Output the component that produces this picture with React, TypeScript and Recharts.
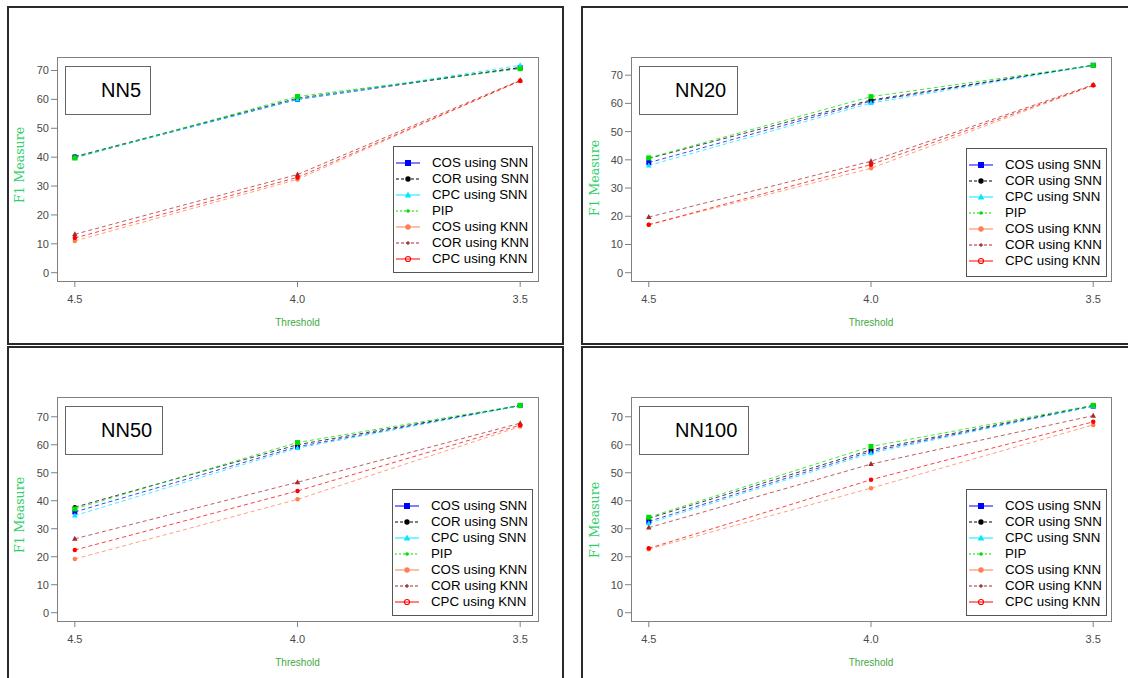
import React from 'react';
import { LineChart, Line, XAxis, YAxis } from 'recharts';

// ---------- data ----------
const THRESHOLDS = [4.5, 4.0, 3.5];
const Y_TICKS = [0, 10, 20, 30, 40, 50, 60, 70];
const PANEL_TITLES = ['NN5', 'NN20', 'NN50', 'NN100'];
const SERIES_NAMES = [
  'COS using SNN',
  'COR using SNN',
  'CPC using SNN',
  'PIP',
  'COS using KNN',
  'COR using KNN',
  'CPC using KNN',
];
const SERIES_KEYS = ['cosSnn', 'corSnn', 'cpcSnn', 'pip', 'cosKnn', 'corKnn', 'cpcKnn'];

const NN5_COS_SNN = [40.0, 60.0, 71.0];
const NN5_COR_SNN = [40.2, 60.4, 71.0];
const NN5_CPC_SNN = [40.0, 60.0, 71.8];
const NN5_PIP = [39.7, 61.0, 70.6];
const NN5_COS_KNN = [11.0, 32.3, 66.5];
const NN5_COR_KNN = [13.3, 34.0, 66.6];
const NN5_CPC_KNN = [12.0, 33.0, 66.4];

const NN20_COS_SNN = [39.0, 60.8, 73.5];
const NN20_COR_SNN = [40.5, 61.2, 73.5];
const NN20_CPC_SNN = [38.0, 60.1, 73.4];
const NN20_PIP = [40.7, 62.4, 73.5];
const NN20_COS_KNN = [17.0, 37.0, 66.3];
const NN20_COR_KNN = [19.7, 39.5, 66.6];
const NN20_CPC_KNN = [17.0, 38.3, 66.4];

const NN50_COS_SNN = [36.0, 59.3, 74.0];
const NN50_COR_SNN = [37.7, 60.0, 74.0];
const NN50_CPC_SNN = [34.7, 58.8, 73.9];
const NN50_PIP = [37.1, 60.8, 74.1];
const NN50_COS_KNN = [19.2, 40.5, 66.5];
const NN50_COR_KNN = [26.4, 46.6, 67.7];
const NN50_CPC_KNN = [22.4, 43.5, 67.0];

const NN100_COS_SNN = [32.6, 57.6, 73.8];
const NN100_COR_SNN = [33.7, 58.2, 74.0];
const NN100_CPC_SNN = [32.0, 57.0, 73.8];
const NN100_PIP = [34.1, 59.4, 74.1];
const NN100_COS_KNN = [22.7, 44.5, 67.1];
const NN100_COR_KNN = [30.4, 53.1, 70.4];
const NN100_CPC_KNN = [23.0, 47.5, 68.2];

const PANEL_VALUES = [
  [NN5_COS_SNN, NN5_COR_SNN, NN5_CPC_SNN, NN5_PIP, NN5_COS_KNN, NN5_COR_KNN, NN5_CPC_KNN],
  [NN20_COS_SNN, NN20_COR_SNN, NN20_CPC_SNN, NN20_PIP, NN20_COS_KNN, NN20_COR_KNN, NN20_CPC_KNN],
  [NN50_COS_SNN, NN50_COR_SNN, NN50_CPC_SNN, NN50_PIP, NN50_COS_KNN, NN50_COR_KNN, NN50_CPC_KNN],
  [NN100_COS_SNN, NN100_COR_SNN, NN100_CPC_SNN, NN100_PIP, NN100_COS_KNN, NN100_COR_KNN, NN100_CPC_KNN],
];

// ---------- styles ----------
const COLORS = ['#0000ff', '#000000', '#00e8ff', '#00e000', '#ff7f50', '#a52a2a', '#ff0000'];
const PLOT_MARKERS = ['square', 'circle', 'triangle', 'square', 'circle', 'triangle', 'circle'];
const LEGEND_DASH = ['', '3 2', '', '2 2', '', '3 2', ''];
const LEGEND_MARKERS = ['square', 'circle', 'triangle', 'dot', 'circle', 'plus', 'open'];

const FONT = '"Liberation Sans", Arial, sans-serif';

// layout of each panel (page coordinates)
const LAYOUT = [
  { cl: 0, ct: 0, cw: 565, ch: 345, pl: 57, pr: 538, pt: 57, pb: 281, lgx: 393, lgy: 146, lgw: 140, lgh: 127, tx: 65, ty: 66, tw: 86, ylx: 20, yly: 165, thy: 323 },
  { cl: 565, ct: 0, cw: 563, ch: 345, pl: 631, pr: 1111, pt: 57, pb: 281, lgx: 966, lgy: 148, lgw: 141, lgh: 129, tx: 639, ty: 66, tw: 99, ylx: 595, yly: 178, thy: 323 },
  { cl: 0, ct: 345, cw: 565, ch: 333, pl: 57, pr: 538, pt: 397, pb: 621, lgx: 392, lgy: 489, lgw: 141, lgh: 127, tx: 65, ty: 406, tw: 98, ylx: 20, yly: 515, thy: 663 },
  { cl: 565, ct: 345, cw: 563, ch: 333, pl: 631, pr: 1111, pt: 397, pb: 621, lgx: 966, lgy: 489, lgw: 141, lgh: 127, tx: 639, ty: 406, tw: 110, ylx: 595, yly: 520, thy: 663 },
];

const FRAMES = [
  { left: 7, top: 6, width: 557, height: 339 },
  { left: 581, top: 6, width: 600, height: 339 },
  { left: 7, top: 346, width: 557, height: 400 },
  { left: 581, top: 346, width: 600, height: 400 },
];

function Marker(props: { cx: number; cy: number; shape: string; color: string; size: number }) {
  const { cx, cy, shape, color, size } = props;
  const h = size / 2;
  switch (shape) {
    case 'square':
      return <rect x={cx - h} y={cy - h} width={size} height={size} fill={color} />;
    case 'triangle':
      return (
        <polygon
          points={`${cx},${cy - h * 1.2} ${cx - h * 1.1},${cy + h * 0.8} ${cx + h * 1.1},${cy + h * 0.8}`}
          fill={color}
        />
      );
    case 'dot':
      return <circle cx={cx} cy={cy} r={h * 0.6} fill={color} />;
    case 'plus':
      return (
        <g stroke={color} strokeWidth={1.2}>
          <line x1={cx - h * 0.7} y1={cy} x2={cx + h * 0.7} y2={cy} />
          <line x1={cx} y1={cy - h * 0.7} x2={cx} y2={cy + h * 0.7} />
        </g>
      );
    case 'open':
      return <circle cx={cx} cy={cy} r={h * 0.85} fill="none" stroke={color} strokeWidth={1.1} />;
    default:
      return <circle cx={cx} cy={cy} r={h * 0.9} fill={color} />;
  }
}

function Legend({ lay }: { lay: any }) {
  return (
    <div
      style={{
        position: 'absolute',
        left: lay.lgx,
        top: lay.lgy,
        width: lay.lgw,
        height: lay.lgh,
        border: '1px solid #555',
        boxSizing: 'border-box',
        background: '#fff',
        paddingTop: 8,
        fontFamily: FONT,
        fontSize: 13.3,
        color: '#000',
      }}
    >
      {SERIES_NAMES.map((name, i) => (
        <div key={name} style={{ height: 16, display: 'flex', alignItems: 'center', whiteSpace: 'nowrap' }}>
          <svg width={36} height={16} style={{ flex: 'none', marginLeft: 1 }}>
            <line
              x1={1}
              y1={8}
              x2={25}
              y2={8}
              stroke={COLORS[i]}
              strokeWidth={1}
              strokeDasharray={LEGEND_DASH[i] || undefined}
            />
            <Marker cx={13} cy={8} shape={LEGEND_MARKERS[i]} color={COLORS[i]} size={6} />
          </svg>
          <span style={{ marginLeft: 1, lineHeight: '16px' }}>{name}</span>
        </div>
      ))}
    </div>
  );
}

function Panel({ idx }: { idx: number }) {
  const lay = LAYOUT[idx];
  const values = PANEL_VALUES[idx];
  const data = THRESHOLDS.map((t, i) => {
    const row: any = { t };
    SERIES_KEYS.forEach((k, s) => {
      row[k] = values[s][i];
    });
    return row;
  });
  const maxV = Math.max(...values.flat());
  const yDomain = [-0.04 * maxV, 1.04 * maxV];
  const yAxisW = 40;
  const xAxisH = 30;
  const margin = {
    top: lay.pt - lay.ct,
    left: lay.pl - lay.cl - yAxisW,
    right: lay.cl + lay.cw - lay.pr,
    bottom: lay.ct + lay.ch - lay.pb - xAxisH,
  };
  const tickStyle = { fontSize: 11, fill: '#4a4a4a', fontFamily: FONT };
  return (
    <>
      <div style={{ position: 'absolute', left: lay.cl, top: lay.ct, width: lay.cw, height: lay.ch }}>
        <LineChart width={lay.cw} height={lay.ch} data={data} margin={margin}>
          <XAxis
            dataKey="t"
            type="number"
            domain={[3.46, 4.54]}
            reversed
            allowDataOverflow
            ticks={THRESHOLDS}
            tickFormatter={(v: number) => v.toFixed(1)}
            axisLine={false}
            tickLine={{ stroke: '#808080' }}
            tickSize={6}
            tickMargin={8}
            height={xAxisH}
            tick={tickStyle}
            interval={0}
          />
          <YAxis
            type="number"
            domain={yDomain}
            allowDataOverflow
            ticks={Y_TICKS}
            axisLine={false}
            tickLine={{ stroke: '#808080' }}
            tickSize={6}
            tickMargin={2}
            width={yAxisW}
            tick={tickStyle}
            interval={0}
          />
          {SERIES_KEYS.map((k, s) => (
            <Line
              key={k}
              dataKey={k}
              name={SERIES_NAMES[s]}
              type="linear"
              stroke={COLORS[s]}
              strokeWidth={1}
              strokeOpacity={0.75}
              strokeDasharray="4 3"
              isAnimationActive={false}
              dot={(p: any) => (
                <g key={`${k}-${p.index}`}>
                  <Marker cx={p.cx} cy={p.cy} shape={PLOT_MARKERS[s]} color={COLORS[s]} size={5} />
                </g>
              )}
              activeDot={false}
            />
          ))}
        </LineChart>
      </div>
      {/* plot box */}
      <div
        style={{
          position: 'absolute',
          left: lay.pl,
          top: lay.pt,
          width: lay.pr - lay.pl + 1,
          height: lay.pb - lay.pt + 1,
          border: '1px solid #808080',
          boxSizing: 'border-box',
          pointerEvents: 'none',
        }}
      />
      {/* title box */}
      <div
        style={{
          position: 'absolute',
          left: lay.tx,
          top: lay.ty,
          width: lay.tw,
          height: 49,
          border: '1px solid #666',
          boxSizing: 'border-box',
          background: '#fff',
          fontFamily: FONT,
          fontSize: 20,
          lineHeight: '47px',
          paddingLeft: 35,
          color: '#000',
        }}
      >
        {PANEL_TITLES[idx]}
      </div>
      <Legend lay={lay} />
      {/* y label */}
      <div
        style={{
          position: 'absolute',
          left: lay.ylx - 50,
          top: lay.yly - 8,
          width: 100,
          height: 16,
          lineHeight: '16px',
          textAlign: 'center',
          transform: 'rotate(-90deg)',
          fontFamily: '"DejaVu Serif", serif',
          fontSize: 12.5,
          color: '#2fcf6a',
        }}
      >
        F1 Measure
      </div>
      {/* x label */}
      <div
        style={{
          position: 'absolute',
          left: (lay.pl + lay.pr) / 2 - 50,
          top: lay.thy - 7,
          width: 100,
          height: 14,
          lineHeight: '14px',
          textAlign: 'center',
          fontFamily: FONT,
          fontSize: 10,
          color: '#3fa93f',
        }}
      >
        Threshold
      </div>
    </>
  );
}

export default function App() {
  return (
    <div
      style={{
        position: 'absolute',
        left: 0,
        top: 0,
        width: 1128,
        height: 678,
        overflow: 'hidden',
        background: '#fff',
      }}
    >
      {FRAMES.map((f, i) => (
        <div
          key={i}
          style={{
            position: 'absolute',
            left: f.left,
            top: f.top,
            width: f.width,
            height: f.height,
            border: '2px solid #2a2a2a',
            boxSizing: 'border-box',
          }}
        />
      ))}
      {[0, 1, 2, 3].map((i) => (
        <Panel key={i} idx={i} />
      ))}
    </div>
  );
}
